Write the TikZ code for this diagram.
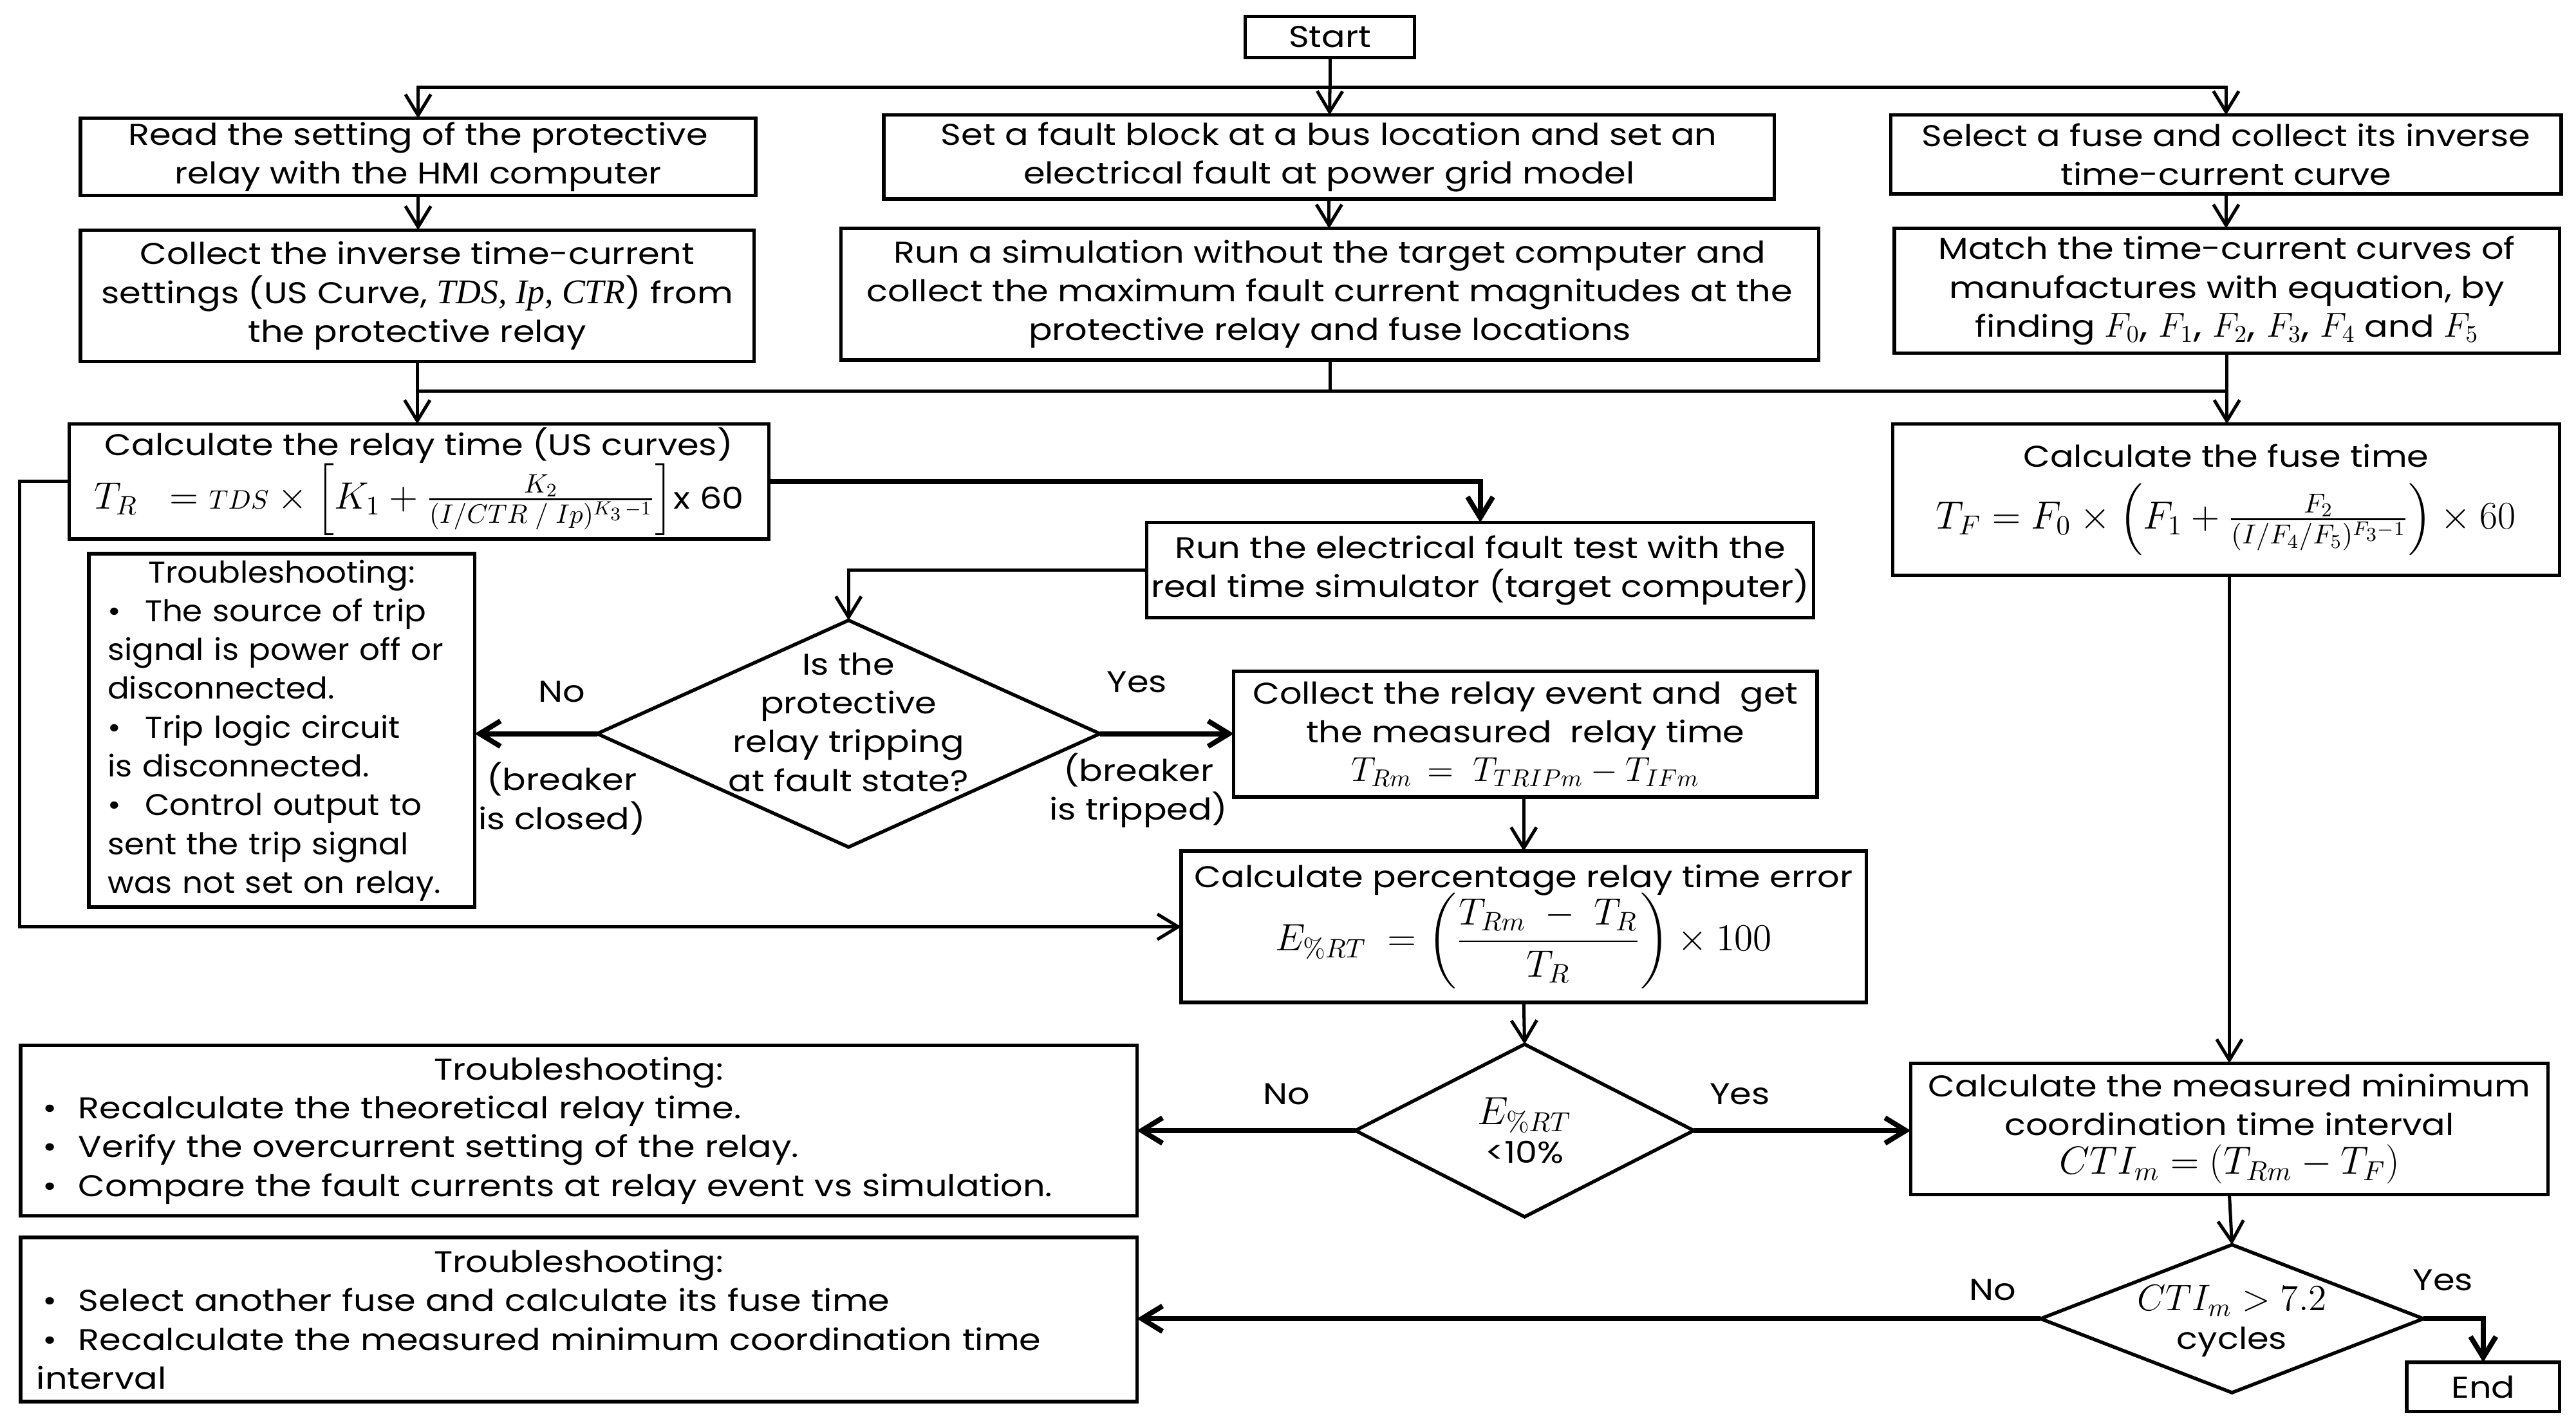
\documentclass[tikz,border=0pt]{standalone}
\usepackage{fix-cm}
\usepackage{amsmath}
\usepackage[no-math]{fontspec}
\setmainfont{Poppins}[FakeStretch=1.16]
\newfontfamily\tbfont{Poppins}[FakeStretch=1.07]
\newfontfamily\serifit{Liberation Serif}
\usetikzlibrary{arrows.meta,shapes.geometric,calc}
\begin{document}
\begin{tikzpicture}[x=0.25mm,y=-0.25mm,
  font=\fontsize{13}{16.8}\selectfont,
  box/.style={draw,line width=1.5pt,inner sep=0pt,outer sep=0pt,align=center},
  R/.style n args={4}{minimum width={(#3-#1)*0.25mm},minimum height={(#4-#2)*0.25mm},at={({(#1+#3)/2},{(#2+#4)/2})}},
  dia/.style={draw,diamond,line width=1.5pt,inner sep=0pt,outer sep=0pt},
  ln/.style={line width=1.4pt},
  arr/.style={line width=1.4pt,-{Straight Barb[length=9pt,width=11pt]}},
  arrT/.style={line width=2.2pt,-{Straight Barb[length=9pt,width=11pt]}},
  lbl/.style={inner sep=0pt,align=center}]
\fill[white] (0,0) rectangle (1568,869);
\useasboundingbox (0,0) rectangle (1568,869);

% boxes
\node[box,R={758}{10}{861}{35}] (start) {Start};
\node[box,R={49}{72}{460}{119}] (read) {Read the setting of the protective\\relay with the HMI computer};
\node[box,R={538}{70}{1080}{121}] (fault) {Set a fault block at a bus location and set an\\electrical fault at power grid model};
\node[box,R={1151}{70}{1559}{118}] (fuse) {Select a fuse and collect its inverse\\time-current curve};
\node[box,R={49}{140}{459}{220}] (collect) {Collect the inverse time-current\\settings (US Curve, {\serifit\itshape\fontsize{15}{16.8}\selectfont TDS, Ip, CTR}) from\\the protective relay};
\node[box,R={512}{139}{1107}{219}] (runsim) {Run a simulation without the target computer and\\collect the maximum fault current magnitudes at the\\protective relay and fuse locations};
\node[box,R={1153}{139}{1558}{215}] (match) {Match the time-current curves of\\manufactures with equation, by\\finding {\fontsize{15}{16.8}\selectfont$F_0$, $F_1$, $F_2$, $F_3$, $F_4$} and {\fontsize{15}{16.8}\selectfont$F_5$}};
\node[box,R={42}{258}{468}{328}] (calcR) {Calculate the relay time (US curves)\\[-1pt]
  {\fontsize{16.5}{19}\selectfont $T_R\;\;={\scriptstyle TDS}\times\Bigl[K_1+\frac{K_2}{(I/CTR\;/\;Ip)^{K_3\,-1}}\Bigr]$}x 60};
\node[box,R={1152}{258}{1558}{350}] (calcF) {Calculate the fuse time\\[6pt]
  {\fontsize{17}{20}\selectfont $T_F=F_0\times\Bigl(F_1+\frac{F_2}{(I/F_4/F_5)^{F_3-1}}\Bigr)\times 60$}};
\node[box,R={698}{318}{1104}{376}] (runtest) {Run the electrical fault test with the\\real time simulator (target computer)};
\node[dia,minimum width=76.5mm,minimum height=34.5mm] (d1) at (516.5,446.5) {};
\node[lbl] at (516.5,439.5) {Is the\\protective\\relay tripping\\at fault state?};
\node[box,R={54}{337}{289}{552},text width=53mm,align=left,font=\tbfont\fontsize{13}{16.8}\selectfont] (tb1) {\makebox[\linewidth][c]{Troubleshooting:}\\
\textbullet\hspace{0.8em}The source of trip\\signal is power off or\\disconnected.\\
\textbullet\hspace{0.8em}Trip logic circuit\\is disconnected.\\
\textbullet\hspace{0.8em}Control output to\\sent the trip signal\\was not set on relay.};
\node[box,R={751}{408.5}{1106}{485}] (collectEv) {Collect the relay event and \ get\\the measured \ relay time\\
  {\fontsize{15}{18}\selectfont $T_{Rm}\,=\;T_{TRIPm}-T_{IFm}$}};
\node[box,R={719}{518}{1136}{610}] (calcP) {Calculate percentage relay time error\\[-2pt]
  {\fontsize{16.5}{19}\selectfont $E_{\%RT}\;=\left(\dfrac{T_{Rm}\;-\;T_R}{T_R}\right)\times 100$}};
\node[dia,minimum width=51.5mm,minimum height=26.25mm] (d2) at (928,688) {};
\node[lbl] at (928,688) {{\fontsize{17}{17}\selectfont$E_{\%RT}$}\\{<}10\%};
\node[box,R={12.5}{636}{692}{740},text width=165mm,align=left] (tb2) {\makebox[\linewidth][c]{Troubleshooting:}\\
\hspace*{1mm}\textbullet\hspace{0.7em}Recalculate the theoretical relay time.\\
\hspace*{1mm}\textbullet\hspace{0.7em}Verify the overcurrent setting of the relay.\\
\hspace*{1mm}\textbullet\hspace{0.7em}Compare the fault currents at relay event vs simulation.};
\node[box,R={12.5}{753}{692}{853},text width=165mm,align=left] (tb3) {\makebox[\linewidth][c]{Troubleshooting:}\\
\hspace*{1mm}\textbullet\hspace{0.7em}Select another fuse and calculate its fuse time\\
\hspace*{1mm}\textbullet\hspace{0.7em}Recalculate the measured minimum coordination time\\
interval};
\node[box,R={1163}{647}{1551}{727}] (cti) {Calculate the measured minimum\\coordination time interval\\
  {\fontsize{17}{19}\selectfont $CTI_m=(T_{Rm}-T_F)$}};
\node[dia,minimum width=58.25mm,minimum height=22.5mm] (d3) at (1358.6,802.5) {};
\node[lbl] at (1358.6,804) {{\fontsize{16}{17}\selectfont$CTI_m > 7.2$}\\cycles};
\node[box,R={1465}{829}{1558}{859}] (endb) {End};

% labels
\node[lbl] at (342,421) {No};
\node[lbl] at (342,486) {(breaker\\is closed)};
\node[lbl] at (692,415) {Yes};
\node[lbl] at (693,481) {(breaker\\is tripped)};
\node[lbl] at (783,666) {No};
\node[lbl] at (1059,666) {Yes};
\node[lbl] at (1213,785) {No};
\node[lbl] at (1487,779) {Yes};

% connectors
\coordinate (s1) at (809.5,53);
\coordinate (j1) at (809.5,238);
\draw[ln] (start) -- (s1);
\draw[arr] (s1) -| (read);
\draw[arr] (s1) -| (fuse);
\draw[arr] (s1) -- (fault);
\draw[arr] (read.south) -- (read.south |- collect.north);
\draw[arr] (fault.south) -- (fault.south |- runsim.north);
\draw[arr] (fuse.south) -- (fuse.south |- match.north);
\draw[ln] (runsim.south) -- (runsim.south |- j1);
\draw[ln] (collect.south |- j1) -- (match.south |- j1);
\draw[arr] (collect.south) -- (collect.south |- calcR.north);
\draw[arr] (match.south) -- (match.south |- calcF.north);
\draw[arrT] (calcR.east) -| (runtest.north);
\draw[arr] (calcR.west) -- ++(-30,0) |- (calcP.west);
\draw[arr] (runtest.west) -| (d1.north);
\draw[arrT] (d1.west) -- (d1.west -| tb1.east);
\draw[arrT] (d1.east) -- (d1.east -| collectEv.west);
\draw[arr] (calcP.north |- collectEv.south) -- (calcP.north);
\draw[arr] (calcP.south) -- (d2.north);
\draw[arrT] (d2.west) -- (d2.west -| tb2.east);
\draw[arrT] (d2.east) -- (d2.east -| cti.west);
\draw[arr] (cti.north |- calcF.south) -- (cti.north);
\draw[arr] (cti.south) -- (d3.north);
\draw[arrT] (d3.west) -- (d3.west -| tb3.east);
\draw[arrT] (d3.east) -| (endb.north);
\end{tikzpicture}
\end{document}
